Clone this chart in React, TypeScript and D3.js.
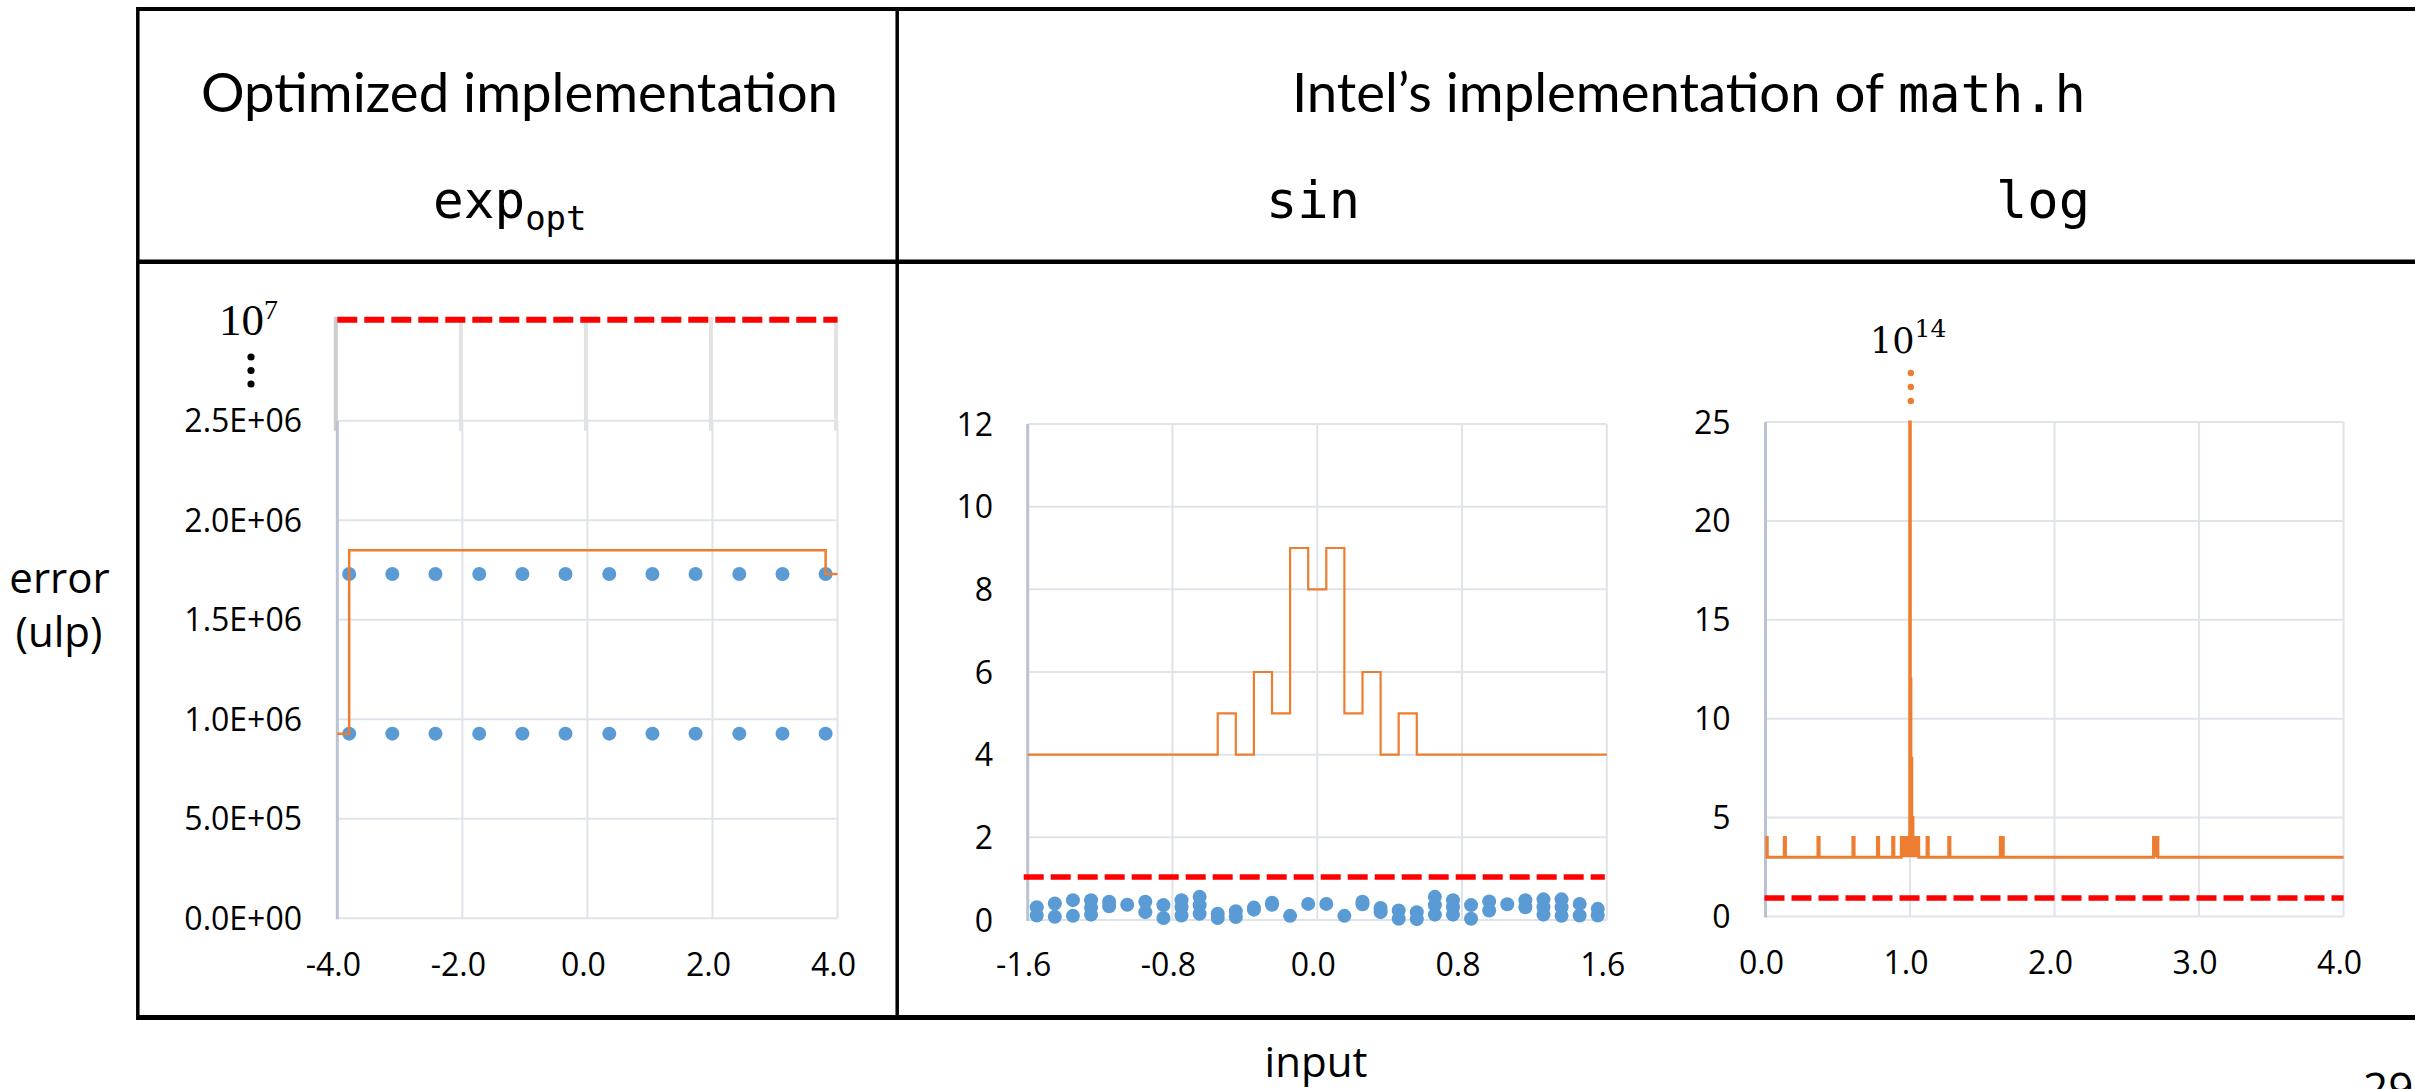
import React from "react";
import * as d3 from "d3";

const W = 2415;
const H = 1089;

// ---------------- exp_opt panel data ----------------
const expXTicks = [-4, -2, 0, 2, 4];
const expXLabels = ["-4.0", "-2.0", "0.0", "2.0", "4.0"];
const expYTicks = [0, 500000, 1000000, 1500000, 2000000, 2500000];
const expYLabels = ["0.0E+00", "5.0E+05", "1.0E+06", "1.5E+06", "2.0E+06", "2.5E+06"];
const expInputs = [-3.81, -3.12, -2.43, -1.73, -1.04, -0.35, 0.35, 1.04, 1.73, 2.43, 3.12, 3.81];
const expErrUpper = [1730000, 1730000, 1730000, 1730000, 1730000, 1730000, 1730000, 1730000, 1730000, 1730000, 1730000, 1730000];
const expErrLower = [928000, 928000, 928000, 928000, 928000, 928000, 928000, 928000, 928000, 928000, 928000, 928000];
const expBoundX = [-4.0, -3.81, 3.81, 4.0];
const expBoundY = [928000, 1850000, 1730000, 1730000];
const expThreshold = 1e7;

// ---------------- sin panel data ----------------
const sinXTicks = [-1.6, -0.8, 0, 0.8, 1.6];
const sinXLabels = ["-1.6", "-0.8", "0.0", "0.8", "1.6"];
const sinYTicks = [0, 2, 4, 6, 8, 10, 12];
const sinYLabels = ["0", "2", "4", "6", "8", "10", "12"];
const sinBoundX = [-1.6, -0.55, -0.45, -0.35, -0.25, -0.15, -0.05, 0.05, 0.15, 0.25, 0.35, 0.45, 0.55, 1.6];
const sinBoundY = [4, 5, 4, 6, 5, 9, 8, 9, 5, 6, 4, 5, 4, 4];
const sinDotInputs = [
  -1.55, -1.45, -1.35, -1.25, -1.15, -1.05, -0.95, -0.85, -0.75, -0.65, -0.55, -0.45, -0.35, -0.25, -0.15, -0.05,
  0.05, 0.15, 0.25, 0.35, 0.45, 0.55, 0.65, 0.75, 0.85, 0.95, 1.05, 1.15, 1.25, 1.35, 1.45, 1.55,
];
const sinDotErrors = [
  [0.31, 0.11], [0.4, 0.08], [0.48, 0.1], [0.48, 0.3, 0.13], [0.44, 0.33], [0.37], [0.44, 0.19], [0.36, 0.05],
  [0.48, 0.31, 0.11], [0.56, 0.36, 0.15], [0.15, 0.05], [0.21, 0.07], [0.3, 0.25], [0.42, 0.37], [0.1], [0.39],
  [0.39], [0.1], [0.44, 0.38], [0.29, 0.19], [0.23, 0.03], [0.19, 0.02], [0.56, 0.36, 0.13], [0.48, 0.31, 0.13],
  [0.36, 0.03], [0.45, 0.23], [0.38], [0.48, 0.31], [0.5, 0.31, 0.13], [0.5, 0.31, 0.1], [0.39, 0.11], [0.27, 0.11],
];
const sinThreshold = 1.04;

// ---------------- log panel data ----------------
const logXTicks = [0, 1, 2, 3, 4];
const logXLabels = ["0.0", "1.0", "2.0", "3.0", "4.0"];
const logYTicks = [0, 5, 10, 15, 20, 25];
const logYLabels = ["0", "5", "10", "15", "20", "25"];
const logBoundX = [
  0.0, 0.012, 0.13, 0.138, 0.363, 0.371, 0.605, 0.613, 0.775, 0.783, 0.88, 0.888, 0.94, 0.998, 1.002, 1.006,
  1.012, 1.02, 1.06, 1.118, 1.126, 1.268, 1.276, 1.625, 1.645, 2.685, 2.715, 4.0,
];
const logBoundY = [
  4, 3, 4, 3, 4, 3, 4, 3, 4, 3, 4, 3, 4, 1e14, 12, 8, 5, 4, 3, 4, 3, 4, 3, 4, 3, 4, 3, 3,
];
const logThreshold = 0.94;

// ---------------- styling ----------------
const GRID = "#dfe3ea";
const AXIS = "#b9c3d4";
const BLUE = "#5b9bd5";
const ORANGE = "#ed7d31";
const RED = "#ff0000";
const SANS = "'Open Sans', 'Noto Sans', sans-serif";
const HEAD = "Lato, 'Open Sans', sans-serif";
const MONO = "'DejaVu Sans Mono', monospace";
const SERIF_T = "'Liberation Serif', serif";
const SERIF_M = "'DejaVu Serif', serif";
const TICK_SIZE = 32;

type Lin = d3.ScaleLinear<number, number>;

function Frame(props: {
  xs: Lin;
  ys: Lin;
  xTicks: number[];
  xLabels: string[];
  yTicks: number[];
  yLabels: string[];
  yLabelX: number;
  xLabelY: number;
}) {
  const { xs, ys, xTicks, xLabels, yTicks, yLabels, yLabelX, xLabelY } = props;
  const [xa, xb] = xs.range();
  const [ya, yb] = ys.range();
  return (
    <g>
      {yTicks.map((t, i) => (
        <line key={"h" + i} x1={xa} x2={xb} y1={ys(t)} y2={ys(t)} stroke={GRID} strokeWidth={2} />
      ))}
      {xTicks.slice(1).map((t, i) => (
        <line key={"v" + i} x1={xs(t)} x2={xs(t)} y1={ya} y2={yb} stroke={GRID} strokeWidth={2} />
      ))}
      <line x1={xa} x2={xa} y1={ya + 1} y2={yb} stroke={AXIS} strokeWidth={3} />
      {yTicks.map((t, i) => (
        <text
          key={"yl" + i}
          x={yLabelX}
          y={ys(t) + 11.5}
          textAnchor="end"
          fontFamily={SANS}
          fontSize={TICK_SIZE}
          fill="#000"
        >
          {yLabels[i]}
        </text>
      ))}
      {xTicks.map((t, i) => (
        <text
          key={"xl" + i}
          x={xs(t) - 4}
          y={xLabelY}
          textAnchor="middle"
          fontFamily={SANS}
          fontSize={TICK_SIZE}
          fill="#000"
        >
          {xLabels[i]}
        </text>
      ))}
    </g>
  );
}

export default function App() {
  const x1 = d3.scaleLinear().domain([-4, 4]).range([337.3, 837.5]);
  const y1 = d3.scaleLinear().domain([0, 2500000]).range([918.3, 420.8]);
  const breakY = y1(2500000) - 101; // broken-axis level where 10^7 is drawn

  const x2 = d3.scaleLinear().domain([-1.6, 1.6]).range([1027.7, 1606.8]);
  const y2 = d3.scaleLinear().domain([0, 12]).range([920, 424]);

  const x3 = d3.scaleLinear().domain([0, 4]).range([1765.5, 2343.6]);
  const y3 = d3.scaleLinear().domain([0, 25]).range([916.5, 422]).clamp(true);

  const stepLine = (xs: Lin, ys: Lin) =>
    d3
      .line<[number, number]>()
      .x((d) => xs(d[0]))
      .y((d) => ys(d[1]))
      .curve(d3.curveStepAfter);

  const expBound = stepLine(x1, y1)(expBoundX.map((v, i) => [v, expBoundY[i]] as [number, number])) || "";
  const sinBound = stepLine(x2, y2)(sinBoundX.map((v, i) => [v, sinBoundY[i]] as [number, number])) || "";
  const logPts = logBoundX.map((v, i) => [v, logBoundY[i]] as [number, number]);
  const logBound = stepLine(x3, y3)(logPts) || "";
  const logArea =
    d3
      .area<[number, number]>()
      .x((d) => x3(d[0]))
      .y0(y3(3))
      .y1((d) => y3(d[1]))
      .curve(d3.curveStepAfter)(logPts) || "";

  const sinDots: [number, number][] = [];
  sinDotInputs.forEach((xv, i) => sinDotErrors[i].forEach((e) => sinDots.push([xv, e])));

  const [ex0, ex1] = x1.range();

  return (
    <div style={{ position: "absolute", left: 0, top: 0, width: W, height: H, background: "#fff" }}>
      <svg width={W} height={H} viewBox={`0 0 ${W} ${H}`} style={{ display: "block" }}>
        <rect x={0} y={0} width={W} height={H} fill="#fff" />

        {/* table lines */}
        <line x1={137.8} x2={W} y1={9} y2={9} stroke="#000" strokeWidth={4} />
        <line x1={137.8} x2={W} y1={261.7} y2={261.7} stroke="#000" strokeWidth={4.5} />
        <line x1={137.8} x2={W} y1={1017.5} y2={1017.5} stroke="#000" strokeWidth={5} />
        <line x1={137.8} x2={137.8} y1={7} y2={1020} stroke="#000" strokeWidth={3.5} />
        <line x1={897.2} x2={897.2} y1={7} y2={1020} stroke="#000" strokeWidth={3.5} />

        {/* headers */}
        <text x={519.5} y={112} textAnchor="middle" fontFamily={HEAD} fontSize={54.5} fill="#000">
          Optimized implementation
        </text>
        <text x={433} y={218} fontFamily={MONO} fontSize={51} fill="#000">
          exp
          <tspan fontSize={34} dy={12}>
            opt
          </tspan>
        </text>
        <text x={1884} y={112} textAnchor="end" fontFamily={HEAD} fontSize={54.5} fill="#000">
          Intel’s implementation of
        </text>
        <text x={1898} y={112} fontFamily={MONO} fontSize={52} fill="#000">
          math.h
        </text>
        <text x={1313} y={218} textAnchor="middle" fontFamily={MONO} fontSize={52} fill="#000">
          sin
        </text>
        <text x={2043} y={218} textAnchor="middle" fontFamily={MONO} fontSize={52} fill="#000">
          log
        </text>

        {/* axis titles */}
        <text x={59.5} y={593} textAnchor="middle" fontFamily={SANS} fontSize={42} fill="#000">
          error
        </text>
        <text x={59} y={647} textAnchor="middle" fontFamily={SANS} fontSize={42} fill="#000">
          (ulp)
        </text>
        <text x={1316} y={1077} textAnchor="middle" fontFamily={SANS} fontSize={42} fill="#000">
          input
        </text>
        <text x={2363} y={1104} fontFamily={SANS} fontSize={44} fill="#000">
          29
        </text>

        {/* ---------- exp panel ---------- */}
        {expXTicks.map((t, i) => (
          <line
            key={"bk" + i}
            x1={x1(t) - 1.5}
            x2={x1(t) - 1.5}
            y1={breakY - 3}
            y2={y1(2500000) + 10}
            stroke={i === 0 ? "#cdcdcd" : "#e3e3e3"}
            strokeWidth={4}
          />
        ))}
        <Frame
          xs={x1}
          ys={y1}
          xTicks={expXTicks}
          xLabels={expXLabels}
          yTicks={expYTicks}
          yLabels={expYLabels}
          yLabelX={302}
          xLabelY={975.5}
        />
        <line x1={ex0} x2={ex1} y1={breakY} y2={breakY} stroke={RED} strokeWidth={6} strokeDasharray="20 7" />
        <text x={219} y={335} fontFamily={SERIF_T} fontSize={45} fill="#000">
          10
          <tspan fontSize={28} dy={-16}>
            7
          </tspan>
        </text>
        {[357, 370.5, 384].map((cy, i) => (
          <circle key={"vd" + i} cx={251} cy={cy} r={3.6} fill="#000" />
        ))}
        <title>{`threshold ${expThreshold}`}</title>
        {expInputs.map((xv, i) => (
          <circle key={"eu" + i} cx={x1(xv)} cy={y1(expErrUpper[i])} r={7} fill={BLUE} />
        ))}
        {expInputs.map((xv, i) => (
          <circle key={"el" + i} cx={x1(xv)} cy={y1(expErrLower[i])} r={7} fill={BLUE} />
        ))}
        <path d={expBound} fill="none" stroke={ORANGE} strokeWidth={2.5} />

        {/* ---------- sin panel ---------- */}
        <Frame
          xs={x2}
          ys={y2}
          xTicks={sinXTicks}
          xLabels={sinXLabels}
          yTicks={sinYTicks}
          yLabels={sinYLabels}
          yLabelX={993}
          xLabelY={976}
        />
        <path d={sinBound} fill="none" stroke={ORANGE} strokeWidth={2.2} />
        <line
          x1={x2.range()[0] - 4}
          x2={x2.range()[1] - 2}
          y1={y2(sinThreshold)}
          y2={y2(sinThreshold)}
          stroke={RED}
          strokeWidth={5.5}
          strokeDasharray="20 7"
        />
        {sinDots.map((d, i) => (
          <circle key={"sd" + i} cx={x2(d[0])} cy={y2(d[1])} r={7} fill={BLUE} />
        ))}

        {/* ---------- log panel ---------- */}
        <Frame
          xs={x3}
          ys={y3}
          xTicks={logXTicks}
          xLabels={logXLabels}
          yTicks={logYTicks}
          yLabels={logYLabels}
          yLabelX={1730.5}
          xLabelY={974}
        />
        <path d={logArea} fill={ORANGE} stroke="none" />
        <path d={logBound} fill="none" stroke={ORANGE} strokeWidth={3} />
        <line
          x1={x3.range()[0] - 1}
          x2={x3.range()[1]}
          y1={y3(logThreshold)}
          y2={y3(logThreshold)}
          stroke={RED}
          strokeWidth={5.5}
          strokeDasharray="20 7"
        />
        <text x={1870} y={353} fontFamily={SERIF_M} fontSize={35} fill="#000">
          10
          <tspan fontSize={25} dy={-16}>
            14
          </tspan>
        </text>
        {[373, 387, 401].map((cy, i) => (
          <circle key={"od" + i} cx={x3(1) + 0.8} cy={cy} r={3.2} fill={ORANGE} />
        ))}
      </svg>
    </div>
  );
}
